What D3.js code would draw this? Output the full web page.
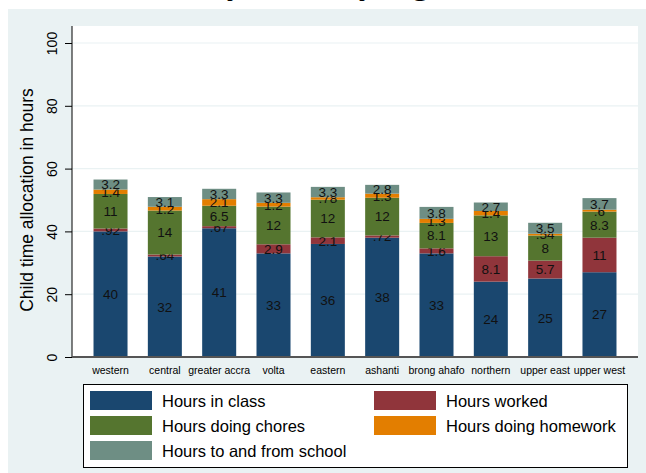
<!DOCTYPE html>
<html>
<head>
<meta charset="utf-8">
<script src="https://cdn.jsdelivr.net/npm/d3@7"></script>
<style>
  body { margin: 0; background: #fff; }
  svg text { font-family: Arial, "Liberation Sans", sans-serif; }
</style>
</head>
<body>
<div id="chart"></div>
<script>
// regions along the x axis
const regions = ["western", "central", "greater accra", "volta", "eastern",
                 "ashanti", "brong ahafo", "northern", "upper east", "upper west"];

// hours per week, one array per activity
const hoursClass    = [40, 32, 41, 33, 36, 38, 33, 24, 25, 27];
const hoursWorked   = [0.92, 0.64, 0.67, 2.9, 2.1, 0.72, 1.6, 8.1, 5.7, 11];
const hoursChores   = [11, 14, 6.5, 12, 12, 12, 8.1, 13, 8, 8.3];
const hoursHomework = [1.4, 1.2, 2.1, 1.2, 0.78, 1.3, 1.3, 1.4, 0.54, 0.6];
const hoursTravel   = [3.2, 3.1, 3.3, 3.3, 3.3, 2.8, 3.8, 2.7, 3.5, 3.7];

const seriesNames = ["Hours in class", "Hours worked", "Hours doing chores",
                     "Hours doing homework", "Hours to and from school"];
const yTicks = [0, 20, 40, 60, 80, 100];

const colors = ["#1a476f", "#90353b", "#55752f", "#e37e00", "#6e8e84"];

const width = 646, height = 473;
const plot = { left: 72, right: 638, top: 26, bottom: 357 };

const svg = d3.select("#chart").append("svg")
  .attr("width", width)
  .attr("height", height);

// title, cut off at the top of the page: only descenders show
const title = svg.append("text")
  .attr("x", 0).attr("y", -6)
  .style("font-family", "'Liberation Serif', 'Times New Roman', serif")
  .style("font-weight", "bold")
  .style("font-size", "33px")
  .text("Child time allocation by hours by region, Ghana");
// line up the "y" of "by region" with the reference
const tNode = title.node();
const yIdx = tNode.textContent.indexOf("by region") + 1;
const yBox = tNode.getExtentOfChar(yIdx);
title.attr("x", 367 - (yBox.x + yBox.width / 2));

// outer panel
svg.append("rect")
  .attr("x", 8).attr("y", 9)
  .attr("width", width - 8).attr("height", height - 9)
  .attr("fill", "#eaf2f3");

// plot region
svg.append("rect")
  .attr("x", plot.left).attr("y", plot.top)
  .attr("width", plot.right - plot.left).attr("height", plot.bottom - plot.top)
  .attr("fill", "#fff");

// build rows for stacking
const rows = regions.map(function(r, i) {
  return { region: r, s0: hoursClass[i], s1: hoursWorked[i], s2: hoursChores[i],
           s3: hoursHomework[i], s4: hoursTravel[i] };
});
const keys = ["s0", "s1", "s2", "s3", "s4"];
const stacked = d3.stack().keys(keys)(rows);

const x = d3.scaleBand()
  .domain(regions)
  .range([plot.left, plot.right])
  .paddingInner(0.374)
  .paddingOuter(0.396);

const y = d3.scaleLinear()
  .domain([0, 100])
  .range([plot.bottom, 43]);

// gridlines
svg.append("g")
  .selectAll("line")
  .data(yTicks.filter(function(d) { return d > 0; }))
  .enter()
  .append("line")
  .attr("x1", plot.left).attr("x2", plot.right)
  .attr("y1", function(d) { return y(d); })
  .attr("y2", function(d) { return y(d); })
  .attr("stroke", "#eaf2f3")
  .attr("stroke-width", 1.2);

// bars
const layers = svg.append("g")
  .selectAll("g")
  .data(stacked)
  .enter()
  .append("g")
  .attr("fill", function(d, i) { return colors[i]; });

layers.selectAll("rect")
  .data(function(d) { return d; })
  .enter()
  .append("rect")
  .attr("x", function(d) { return x(d.data.region); })
  .attr("y", function(d) { return y(d[1]); })
  .attr("width", x.bandwidth())
  .attr("height", function(d) { return y(d[0]) - y(d[1]); });

// stata style labels: 2 significant digits, no leading zero
const fmt = d3.format(".2~g");
function label(v) { return fmt(v).replace(/^0\./, "."); }

layers.selectAll("text")
  .data(function(d) { return d; })
  .enter()
  .append("text")
  .attr("x", function(d) { return x(d.data.region) + x.bandwidth() / 2; })
  .attr("y", function(d) { return (y(d[0]) + y(d[1])) / 2; })
  .attr("dy", "0.36em")
  .attr("text-anchor", "middle")
  .attr("fill", "#111")
  .style("font-size", "13.5px")
  .text(function(d) { return label(d[1] - d[0]); });

// y axis
const yAxis = svg.append("g")
  .attr("transform", "translate(" + plot.left + ",0)")
  .call(d3.axisLeft(y).tickValues(yTicks).tickSize(7).tickPadding(5));
yAxis.select(".domain")
  .attr("d", "M0," + plot.top + "V" + plot.bottom)
  .attr("stroke", "#000");
yAxis.selectAll(".tick line").attr("stroke", "#000");
yAxis.selectAll(".tick text")
  .attr("transform", "rotate(-90)")
  .attr("x", 0).attr("y", -15)
  .attr("dy", 0)
  .attr("text-anchor", "middle")
  .attr("fill", "#000")
  .style("font-size", "14px");

svg.append("text")
  .attr("transform", "translate(33,200) rotate(-90)")
  .attr("text-anchor", "middle")
  .style("font-size", "17.5px")
  .text("Child time allocation in hours");

// x axis
const xAxis = svg.append("g")
  .attr("transform", "translate(0," + plot.bottom + ")")
  .call(d3.axisBottom(x).tickSize(0).tickPadding(10));
xAxis.select(".domain")
  .attr("d", "M" + plot.left + ",0H" + plot.right)
  .attr("stroke", "#555")
  .attr("stroke-width", 2);
xAxis.selectAll(".tick text")
  .attr("fill", "#000")
  .style("font-size", "10.5px");

// legend
const legend = svg.append("g");
legend.append("rect")
  .attr("x", 83.5).attr("y", 384.5)
  .attr("width", 544).attr("height", 83)
  .attr("fill", "#fff")
  .attr("stroke", "#000");

const legendItems = legend.selectAll("g.item")
  .data(seriesNames)
  .enter()
  .append("g")
  .attr("class", "item")
  .attr("transform", function(d, i) {
    return "translate(" + (i % 2 === 0 ? 90 : 374) + "," + (391 + Math.floor(i / 2) * 25) + ")";
  });

legendItems.append("rect")
  .attr("width", 62).attr("height", 19)
  .attr("fill", function(d, i) { return colors[i]; });

legendItems.append("text")
  .attr("x", 72).attr("y", 10)
  .attr("dy", "0.36em")
  .style("font-size", "16.5px")
  .text(function(d) { return d; });
</script>
</body>
</html>
